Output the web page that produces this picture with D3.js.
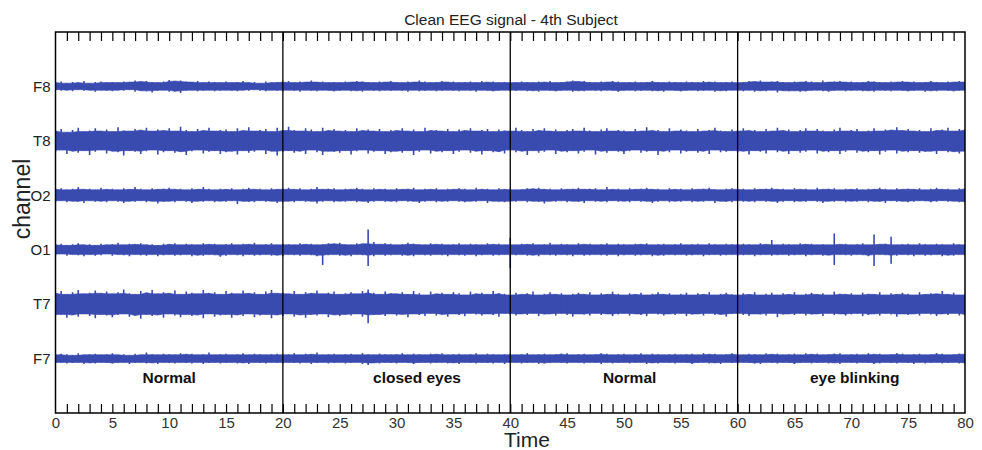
<!DOCTYPE html>
<html><head><meta charset="utf-8">
<script src="https://cdn.jsdelivr.net/npm/d3@7"></script>
<style>
html,body{margin:0;padding:0;background:#fff;}
svg{display:block;font-family:"Liberation Sans",Arial,sans-serif;}
</style></head>
<body><svg id="chart" width="982" height="450"></svg>
<script>
// ---------- DATA ----------
const title = "Clean EEG signal - 4th Subject";
const channels = ["F7","T7","O1","O2","T8","F8"];          // bottom to top
const xTicks = [0,5,10,15,20,25,30,35,40,45,50,55,60,65,70,75,80];
const segmentBounds = [20,40,60];
const segmentLabels = ["Normal","closed eyes","Normal","eye blinking"];
const segmentLabelX = [10,31.8,50.5,70.3];
// Envelope of each trace (upper / lower excursion, µV-like units, 100 = channel spacing), sampled every 0.5 s
const F8_up = [7,9,6,8,7,10,6,8,9,7, 8,7,9,8,11,9,10,8,7,9, 12,10,11,9,8,10,7,9,8,7, 9,7,8,10,7,8,6,9,7,8, 8,10,7,9,8,11,8,9,7,8, 7,9,8,10,9,8,7,9,8,10, 8,7,9,8,11,9,7,8,10,8, 9,7,8,9,7,10,8,9,7,8, 8,7,9,8,7,9,8,10,7,8, 9,11,9,10,8,7,9,8,10,9, 7,8,9,7,8,10,8,7,9,8, 7,9,8,7,10,8,9,7,8,9, 7,8,10,9,11,8,9,10,8,7, 9,8,10,9,7,11,8,9,10,8, 9,7,8,10,9,8,7,9,8,10, 8,9,7,8,10,8,7,9,8,10, 8];
const F8_lo = [6,8,7,9,6,8,7,10,7,8, 9,7,8,6,10,8,9,11,8,7, 10,9,12,8,7,9,8,7,9,8, 7,8,9,7,8,6,8,9,7,8, 9,7,8,10,7,8,9,7,8,9, 8,7,9,8,10,7,8,9,7,8, 7,8,10,7,9,8,7,9,8,7, 8,9,7,8,10,7,8,9,8,7, 9,8,7,9,8,10,7,8,9,8, 7,10,8,9,7,8,9,7,8,10, 8,7,9,8,7,9,8,10,7,8, 9,8,7,9,8,7,10,8,9,7, 8,9,7,10,8,9,7,11,8,9, 8,10,9,8,7,9,10,8,7,9, 8,7,9,8,10,7,8,9,7,8, 9,8,7,10,8,9,7,8,9,8, 7];
const T8_up = [18,22,16,20,24,17,19,23,18,21, 17,25,19,18,22,20,24,18,21,19, 23,18,26,20,17,22,19,24,18,20, 21,17,23,19,25,18,20,22,17,24, 19,26,20,18,23,21,17,24,19,22, 18,20,17,23,19,21,18,22,17,20, 19,23,18,21,17,24,19,20,18,22, 17,21,19,23,18,20,22,17,21,19, 18,24,20,17,22,19,23,18,21,17, 20,22,18,24,19,17,21,23,18,20, 19,17,22,18,25,19,20,17,23,18, 21,19,17,22,18,20,24,19,17,21, 18,23,19,20,17,22,18,24,19,21, 17,20,23,18,22,19,17,21,24,18, 20,22,17,19,23,18,21,20,25,19, 22,18,20,17,23,19,21,24,18,22, 20];
const T8_lo = [20,17,24,19,22,18,26,20,17,23, 19,21,27,18,20,24,19,17,25,21, 18,22,20,26,19,17,23,20,18,24, 21,19,25,18,22,20,17,24,19,27, 20,18,22,19,24,17,21,26,19,20, 22,18,25,19,17,23,20,18,24,21, 19,22,18,26,20,17,23,19,21,18, 24,20,17,22,19,25,18,21,20,23, 17,21,19,26,18,22,20,17,24,19, 21,18,23,20,17,25,19,22,18,20, 24,19,17,22,20,18,26,19,21,17, 23,20,18,22,19,24,17,21,20,18, 22,19,25,18,20,23,17,21,19,24, 18,22,20,17,23,19,21,18,24,20, 17,22,19,21,18,25,20,17,23,19, 21,18,22,20,19,24,18,21,20,23, 19];
const O2_up = [11,13,10,12,15,11,12,10,14,11, 12,10,13,11,15,12,10,13,11,12, 14,11,12,10,13,11,15,12,10,12, 11,13,10,12,14,11,12,10,13,11, 12,14,11,13,10,12,15,11,12,13, 10,12,11,14,12,10,13,11,12,10, 13,11,12,14,10,12,11,13,10,12, 11,13,12,10,14,11,12,10,13,11, 12,10,11,13,12,14,11,12,10,13, 11,12,14,11,12,13,10,15,11,12, 10,13,11,12,14,11,12,10,13,11, 12,10,13,11,12,14,11,10,12,13, 11,12,10,13,11,12,14,11,12,10, 13,11,12,10,14,11,12,13,10,12, 11,13,10,12,11,14,12,10,13,11, 12,11,13,10,12,14,11,12,10,13, 12];
const O2_lo = [12,10,13,11,12,14,10,12,11,13, 10,12,14,11,12,10,13,11,15,12, 11,13,10,12,14,11,12,10,13,11, 12,10,16,11,12,13,10,12,11,14, 12,11,13,10,12,11,15,12,10,13, 11,12,10,13,11,14,12,10,12,11, 13,10,12,11,14,12,10,13,11,12, 10,12,13,11,12,10,14,11,12,13, 11,12,10,13,11,12,15,11,12,10, 13,11,12,14,10,12,11,13,10,12, 11,13,10,12,11,14,12,10,13,11, 12,10,13,11,12,10,14,11,12,13, 10,12,11,13,10,12,11,14,12,10, 13,11,12,10,12,14,11,12,10,13, 11,12,10,13,11,12,14,10,12,11, 13,12,10,11,13,12,10,12,11,13, 12];
const O1_up = [9,11,8,10,12,9,10,8,11,9, 10,13,9,11,10,12,9,10,8,11, 10,12,9,11,10,9,12,10,11,9, 10,12,9,11,10,13,9,10,12,9, 11,10,9,12,10,11,9,10,12,11, 13,10,9,12,11,37,14,10,12,11, 9,10,13,11,10,9,12,10,11,9, 10,12,9,11,10,9,12,10,11,9, 22,9,11,10,12,9,10,13,9,11, 10,9,12,10,11,9,10,12,9,11, 10,9,11,10,12,9,10,11,9,10, 12,9,10,11,9,12,10,9,11,10, 9,11,10,9,12,10,18,9,11,10, 9,12,10,11,9,10,9,30,10,11, 9,10,12,9,28,10,11,24,9,10, 11,9,12,10,9,11,10,9,12,10, 9];
const O1_lo = [10,8,11,9,10,12,9,11,10,8, 11,9,10,12,9,10,11,9,12,10, 9,11,10,9,12,10,11,9,10,13, 11,9,10,12,9,11,10,9,11,10, 12,9,10,11,9,10,12,28,10,9, 11,10,12,9,10,30,12,9,11,10, 9,11,10,12,9,10,11,9,10,12, 9,10,11,9,12,10,9,11,10,9, 34,10,9,11,10,12,9,10,11,9, 10,12,9,11,10,9,10,11,9,12, 10,9,11,10,9,12,10,11,9,10, 9,11,10,9,12,10,9,11,10,9, 11,10,9,12,10,9,11,10,9,11, 10,9,12,10,9,11,10,28,9,10, 11,9,10,12,30,9,10,26,11,9, 10,12,9,11,10,9,12,10,11,9, 10];
const T7_up = [20,24,18,22,26,19,21,25,20,23, 19,22,27,20,18,24,21,26,19,22, 20,25,18,23,21,19,26,20,22,18, 24,21,19,25,20,22,18,23,26,20, 21,19,24,18,22,20,25,19,21,23, 18,20,22,19,24,27,21,18,23,20, 19,22,18,24,20,17,23,19,21,18, 22,20,17,23,19,21,18,24,20,19, 17,21,18,20,23,17,19,22,18,20, 17,19,21,18,22,17,20,18,23,19, 17,20,18,21,17,19,22,18,20,17, 19,21,17,20,18,22,17,19,21,18, 17,20,18,22,17,19,21,17,20,18, 22,17,19,21,18,20,17,23,19,18, 20,17,21,19,18,22,17,20,18,21, 19,17,22,18,20,19,24,18,21,17, 19];
const T7_lo = [21,19,25,20,23,18,22,26,19,21, 24,20,18,23,21,27,19,22,20,25, 18,21,24,19,22,20,26,18,23,21, 19,25,20,22,18,24,21,19,26,20, 22,18,23,20,25,19,21,18,24,20, 22,19,21,18,23,35,20,19,22,18, 21,19,24,18,20,22,17,21,19,23, 18,20,22,17,19,21,18,20,23,17, 19,21,18,20,17,22,19,18,21,17, 20,23,18,19,21,17,20,18,22,19, 17,21,18,20,22,17,19,21,18,20, 17,22,19,18,21,17,20,19,23,18, 17,20,22,18,19,21,17,24,19,18, 20,17,21,19,18,22,17,20,18,21, 19,17,22,20,18,21,17,19,23,18, 20,18,21,17,19,22,18,20,17,21, 19];
const F7_up = [7,9,8,6,10,7,8,9,7,8, 10,7,8,6,9,7,11,8,7,9, 8,7,10,8,9,7,8,11,7,8, 9,7,8,10,7,9,8,7,8,9, 7,8,10,7,9,8,11,7,8,9, 7,8,9,7,10,8,7,9,8,7, 8,10,7,9,8,7,9,8,10,7, 8,9,7,8,10,7,9,8,7,8, 9,7,8,10,7,8,9,7,8,9, 10,7,8,9,7,8,10,9,7,8, 9,7,8,10,7,9,8,7,8,9, 7,8,9,7,10,8,9,7,8,10, 8,7,9,8,7,10,8,9,7,8, 9,7,10,8,9,7,8,9,10,7, 8,9,7,10,8,9,7,8,10,9, 7,8,9,7,8,10,9,7,8,9, 8];
const F7_lo = [8,7,9,8,7,10,8,9,7,8, 9,8,7,10,8,7,9,8,10,7, 8,9,7,8,9,7,10,8,7,9, 8,7,9,8,10,7,8,9,7,8, 9,7,8,9,7,10,8,7,9,8, 7,9,8,7,10,12,8,9,7,8, 9,7,8,10,8,7,9,8,7,9, 8,10,7,8,9,7,8,9,7,10, 8,7,9,8,7,10,9,8,7,8, 9,7,8,9,7,8,10,7,9,8, 7,9,8,7,10,8,9,7,8,9, 7,8,10,8,7,9,8,10,7,8, 9,7,8,9,10,7,8,9,7,8, 10,8,7,9,8,7,9,8,10,7, 8,9,7,8,10,9,7,8,9,7, 8,10,7,9,8,7,9,8,7,9, 8];
const traces = [
  {name:"F7", up:F7_up, lo:F7_lo},
  {name:"T7", up:T7_up, lo:T7_lo},
  {name:"O1", up:O1_up, lo:O1_lo},
  {name:"O2", up:O2_up, lo:O2_lo},
  {name:"T8", up:T8_up, lo:T8_lo},
  {name:"F8", up:F8_up, lo:F8_lo}
];
const channelSpacing = 100;

// ---------- CHART ----------
const svg = d3.select("#chart");
const L = 55.5, R = 965, T = 32, B = 413;
const x = d3.scaleLinear().domain([0,80]).range([L,R]);
const y = d3.scaleLinear().domain([0, 7*channelSpacing]).range([B,T]);
const signalColor = "#3a4bb0";

svg.append("defs").append("clipPath").attr("id","clip")
  .append("rect").attr("x",L).attr("y",T).attr("width",R-L).attr("height",B-T);

const gSig = svg.append("g").attr("clip-path","url(#clip)");
traces.forEach(tr => {
  const base = (channels.indexOf(tr.name)+1)*channelSpacing;
  const n = tr.up.length;
  const idx = d3.range(n);
  const tx = i => x(i*80/(n-1));
  // dense core: local minimum excursion around each sample
  const floorOf = (arr,i) => d3.min([arr[Math.max(0,i-1)], arr[i], arr[Math.min(n-1,i+1)]]);
  const core = d3.area()
    .x(tx)
    .y0(i => y(base - floorOf(tr.lo,i)))
    .y1(i => y(base + floorOf(tr.up,i)));
  gSig.append("path").datum(idx).attr("d",core)
    .attr("fill",signalColor).attr("stroke",signalColor).attr("stroke-width",0.6);
  // individual excursions as thin vertical strokes
  gSig.append("g").selectAll("line").data(idx).join("line")
    .attr("x1",tx).attr("x2",tx)
    .attr("y1",i => y(base + tr.up[i])).attr("y2",i => y(base - tr.lo[i]))
    .attr("stroke",signalColor).attr("stroke-width",1.6);
});

// segment separators
svg.append("g").selectAll("line").data(segmentBounds).join("line")
  .attr("x1",d=>x(d)).attr("x2",d=>x(d)).attr("y1",T).attr("y2",B)
  .attr("stroke","#000").attr("stroke-width",1.3);

// segment labels
svg.append("g").selectAll("text").data(segmentLabels).join("text")
  .attr("x",(d,i)=>x(segmentLabelX[i])).attr("y",383)
  .attr("text-anchor","middle").attr("font-weight","bold").attr("font-size",15.5)
  .attr("fill","#111").text(d=>d);

// minor ticks (top and bottom, inward)
const minor = d3.range(1,80);
svg.append("g").attr("transform",`translate(0,${B})`)
  .call(d3.axisBottom(x).tickValues(minor).tickSize(-9).tickFormat(""))
  .call(g=>g.select(".domain").remove())
  .call(g=>g.selectAll("line").attr("stroke","#000").attr("stroke-width",1.2));
svg.append("g").attr("transform",`translate(0,${T})`)
  .call(d3.axisTop(x).tickValues(minor).tickSize(-9).tickFormat(""))
  .call(g=>g.select(".domain").remove())
  .call(g=>g.selectAll("line").attr("stroke","#000").attr("stroke-width",1.2));

// x tick labels
svg.append("g").attr("transform",`translate(0,${B})`)
  .call(d3.axisBottom(x).tickValues(xTicks).tickSize(0).tickPadding(4).tickFormat(d3.format("d")))
  .call(g=>g.select(".domain").remove())
  .call(g=>g.selectAll("text").attr("font-size",15).attr("fill","#333")
      .attr("font-family","'Liberation Sans',Arial,sans-serif"));

// channel labels
svg.append("g").attr("transform",`translate(${L},0)`)
  .call(d3.axisLeft(y).tickValues(channels.map((c,i)=>(i+1)*channelSpacing)).tickSize(0).tickPadding(5)
     .tickFormat((d,i)=>channels[i]))
  .call(g=>g.select(".domain").remove())
  .call(g=>g.selectAll("text").attr("font-size",15).attr("fill","#222")
      .attr("font-family","'Liberation Sans',Arial,sans-serif"));

// frame
svg.append("rect").attr("x",L).attr("y",T).attr("width",R-L).attr("height",B-T)
  .attr("fill","none").attr("stroke","#000").attr("stroke-width",1.5);

// title & axis titles
svg.append("text").attr("x",511).attr("y",25).attr("text-anchor","middle")
  .attr("font-size",15.5).attr("fill","#222").text(title);
svg.append("text").attr("x",527).attr("y",447).attr("text-anchor","middle")
  .attr("font-size",21).attr("fill","#222").text("Time");
svg.append("text").attr("transform","translate(30,199) rotate(-90)").attr("text-anchor","middle")
  .attr("font-size",23).attr("fill","#222").text("channel");
</script></body></html>
